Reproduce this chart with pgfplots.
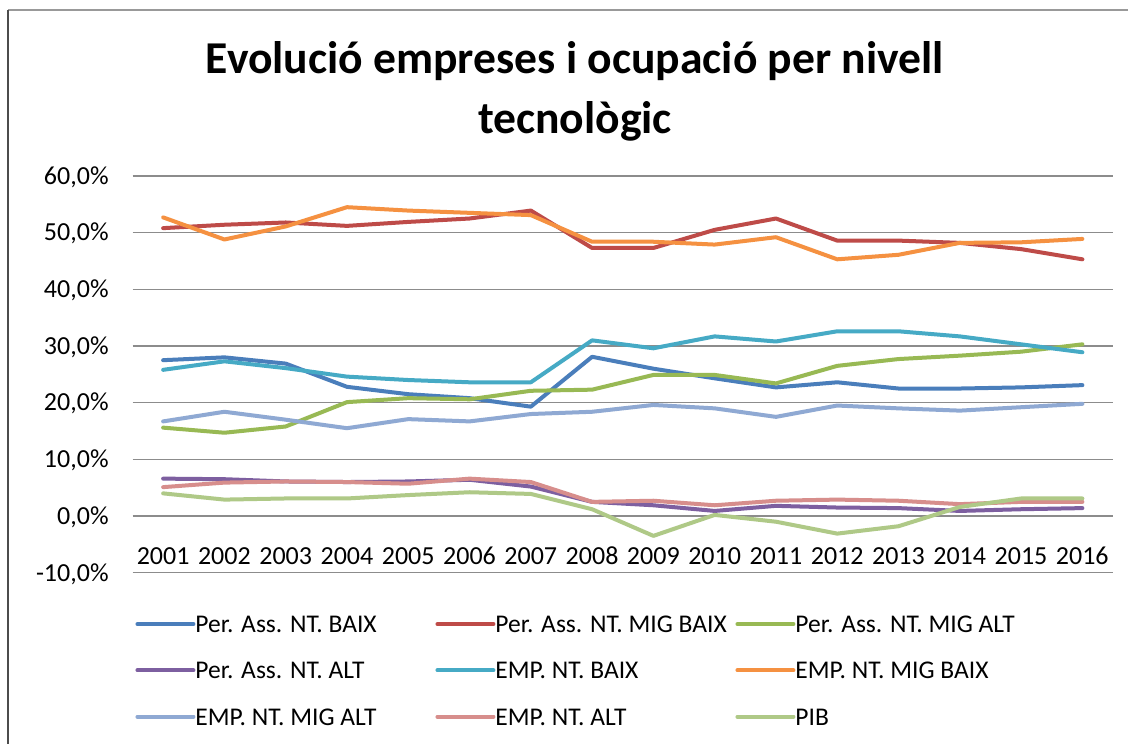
\documentclass[border=0pt]{standalone}
\usepackage{fontspec}
\setmainfont{Carlito}
\usepackage{pgfplots}
\pgfplotsset{compat=1.18}
\usepackage{pgfplotstable}

\definecolor{cPAB}{HTML}{4A7EBB}
\definecolor{cPAMB}{HTML}{BE4B48}
\definecolor{cPAMA}{HTML}{98B954}
\definecolor{cPAA}{HTML}{7D5FA0}
\definecolor{cENB}{HTML}{46AAC5}
\definecolor{cENMB}{HTML}{F59141}
\definecolor{cENMA}{HTML}{8FA9D3}
\definecolor{cENA}{HTML}{D78E8C}
\definecolor{cPIB}{HTML}{AFC987}
\definecolor{gridgray}{HTML}{8C8C8C}

% values in %
\pgfplotstableread{
year pab  pamb pama paa enb  enmb enma ena pib
2001 27.5 50.8 15.6 6.6 25.8 52.7 16.7 5.1 4.0
2002 28.0 51.4 14.7 6.5 27.3 48.8 18.4 5.9 2.9
2003 26.9 51.8 15.8 6.1 26.1 51.1 17.0 6.1 3.1
2004 22.8 51.2 20.1 6.0 24.6 54.5 15.5 6.0 3.1
2005 21.5 51.9 20.8 6.1 24.0 53.9 17.1 5.7 3.7
2006 20.8 52.5 20.6 6.4 23.6 53.5 16.7 6.6 4.2
2007 19.3 53.9 22.1 5.2 23.6 53.1 18.0 6.0 3.9
2008 28.1 47.3 22.3 2.5 31.0 48.4 18.4 2.5 1.2
2009 26.0 47.3 24.9 1.9 29.6 48.4 19.6 2.7 -3.5
2010 24.3 50.5 24.9 0.9 31.7 47.9 19.0 1.9 0.2
2011 22.7 52.5 23.4 1.8 30.8 49.2 17.5 2.7 -1.0
2012 23.6 48.6 26.5 1.5 32.6 45.3 19.5 2.9 -3.1
2013 22.5 48.6 27.7 1.4 32.6 46.1 19.0 2.7 -1.8
2014 22.5 48.2 28.3 0.9 31.7 48.2 18.6 2.1 1.6
2015 22.7 47.1 29.0 1.2 30.3 48.3 19.2 2.5 3.1
2016 23.1 45.3 30.3 1.4 28.9 48.9 19.8 2.5 3.1
}\datatable

\newcommand{\legtext}[1]{\makebox[120pt][l]{#1}}

\begin{document}
\begin{tikzpicture}
\useasboundingbox (0,0) rectangle (564pt,-372pt);
\fill[white] (0,0) rectangle (564pt,-372pt);
% chart frame (only top and left visible)
\draw[line width=0.9pt, gray!80] (4pt,-5pt) -- (564pt,-5pt);
\draw[line width=1pt, black!70] (4pt,-5pt) -- (4pt,-372pt);

\node[anchor=base, align=center, font=\fontsize{22.8}{30}\selectfont\bfseries]
  at (287.5pt,-66.5pt) {Evolució empreses i ocupació per nivell\\tecnològic};

\begin{axis}[
  at={(66.25pt,-286.35pt)}, anchor=south west,
  scale only axis, width=490.25pt, height=198.35pt,
  xmin=2000.5, xmax=2016.5, ymin=-10, ymax=60,
  axis line style={draw=none},
  ymajorgrids, grid style={gridgray, line width=0.6pt},
  xtick={2001,...,2016},
  xticklabels={2001,2002,2003,2004,2005,2006,2007,2008,2009,2010,2011,2012,2013,2014,2015,2016},
  ytick={-10,0,10,20,30,40,50,60},
  yticklabels={{-10,0\%},{0,0\%},{10,0\%},{20,0\%},{30,0\%},{40,0\%},{50,0\%},{60,0\%}},
  major tick length=0pt,
  tick pos=left,
  tick label style={font=\fontsize{13}{15}\selectfont, inner sep=0pt,
    text height=8.3pt, text depth=0pt},
  xticklabel style={anchor=center, yshift=8.1pt},
  yticklabel style={anchor=east, xshift=-11.75pt},
  every axis plot/.append style={line width=2pt, line join=round, line cap=round},
  legend columns=3,
  legend cell align=left,
  legend image code/.code={
    \path (0pt,0pt) -- (28pt,0pt);
    \draw[#1] (1.8pt,0pt) -- (26pt,0pt);
  },
  legend style={
    at={(axis description cs:0.003,-0.1079)}, anchor=north west,
    draw=none, fill=none, inner sep=0pt, outer sep=0pt,
    column sep=0pt, row sep=14.65pt,
    font=\fontsize{12.75}{15}\selectfont,
    nodes={inner sep=0pt, text height=8.5pt, text depth=0pt},
  },
]
\addplot[cPAB] table[x=year, y=pab] {\datatable};
\addlegendentry{\legtext{Per. Ass. NT. BAIX}}
\addplot[cPAMB] table[x=year, y=pamb] {\datatable};
\addlegendentry{\legtext{Per. Ass. NT. MIG BAIX}}
\addplot[cPAMA] table[x=year, y=pama] {\datatable};
\addlegendentry{\legtext{Per. Ass. NT. MIG ALT}}
\addplot[cPAA] table[x=year, y=paa] {\datatable};
\addlegendentry{\legtext{Per. Ass. NT. ALT}}
\addplot[cENB] table[x=year, y=enb] {\datatable};
\addlegendentry{\legtext{EMP. NT. BAIX}}
\addplot[cENMB] table[x=year, y=enmb] {\datatable};
\addlegendentry{\legtext{EMP. NT. MIG BAIX}}
\addplot[cENMA] table[x=year, y=enma] {\datatable};
\addlegendentry{\legtext{EMP. NT. MIG ALT}}
\addplot[cENA] table[x=year, y=ena] {\datatable};
\addlegendentry{\legtext{EMP. NT. ALT}}
\addplot[cPIB] table[x=year, y=pib] {\datatable};
\addlegendentry{\legtext{PIB}}
\end{axis}
\end{tikzpicture}
\end{document}
